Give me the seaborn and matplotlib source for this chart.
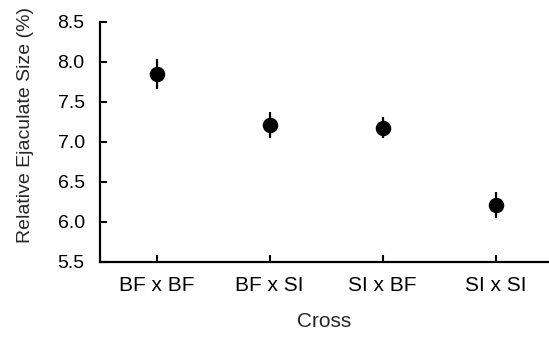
import matplotlib
matplotlib.use("Agg")
import matplotlib.pyplot as plt
import seaborn as sns
import pandas as pd

cross = ["BF x BF", "BF x SI", "SI x BF", "SI x SI"]
size_mean = [7.85, 7.21, 7.18, 6.21]
size_err = [0.19, 0.16, 0.13, 0.16]

sns.set_style("ticks")
plt.rcParams['font.family'] = ['Liberation Sans', 'DejaVu Sans']

df = pd.DataFrame({"Cross": cross, "Size": size_mean, "Err": size_err})

fig = plt.figure(figsize=(5.49, 3.39), dpi=100)
ax = fig.add_axes([100 / 549, 1 - 262 / 339, 1 - 100 / 549, 240 / 339])

ax.errorbar(df["Cross"], df["Size"], yerr=df["Err"], fmt="none",
            ecolor="black", elinewidth=1.6, capsize=0, zorder=2)
sns.scatterplot(data=df, x="Cross", y="Size", ax=ax, color="black",
                s=125, edgecolor="black", linewidth=0, zorder=3)

ax.set_xlim(-0.5, 3.47)
ax.set_ylim(5.5, 8.5)
ax.set_yticks([5.5, 6.0, 6.5, 7.0, 7.5, 8.0, 8.5])
ax.set_yticklabels(["5.5", "6.0", "6.5", "7.0", "7.5", "8.0", "8.5"])

ax.set_xlabel("Cross", fontsize=15, labelpad=12)
ax.set_ylabel("Relative Ejaculate Size (%)", fontsize=14)
ax.yaxis.set_label_coords(-0.148, 0.57)
ax.tick_params(axis="both", direction="in", length=5, width=1.5,
               color="black", labelcolor="black")
ax.tick_params(axis="x", pad=10, labelsize=15)
ax.tick_params(axis="y", pad=11, labelsize=14)

for s in ["top", "right"]:
    ax.spines[s].set_visible(False)
for s in ["left", "bottom"]:
    ax.spines[s].set_linewidth(1.6)
    ax.spines[s].set_color("black")

fig.savefig("out.png", dpi=100)
